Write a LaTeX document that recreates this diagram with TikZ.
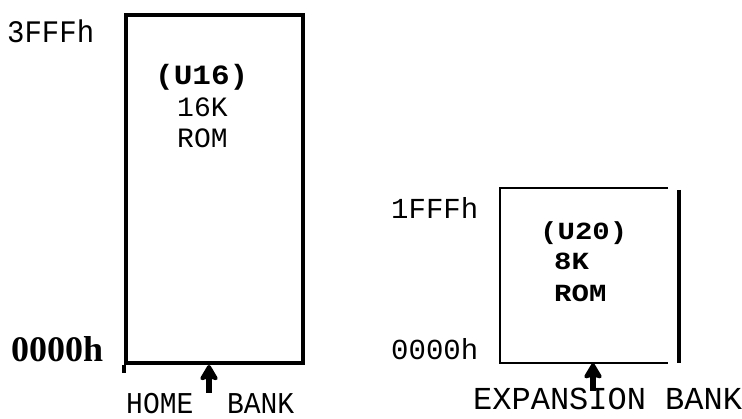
\documentclass[tikz,border=0pt]{standalone}
\usepackage{fontspec}
\usepackage{graphicx}
\setmainfont{Liberation Serif}
\setmonofont{Liberation Mono}
\usetikzlibrary{arrows.meta}
\newcommand{\vstretch}[2]{\scalebox{1}[#1]{#2}}
\tikzset{
  lbl/.style={font=\ttfamily\fontsize{29}{29}\selectfont, inner sep=0pt, anchor=base west},
  inlbl/.style={font=\ttfamily\fontsize{28}{28}\selectfont, inner sep=0pt, anchor=base west},
  inbold/.style={font=\ttfamily\bfseries\fontsize{29}{29}\selectfont, inner sep=0pt, anchor=base west},
  thickbox/.style={draw, line width=4pt, inner sep=0pt},
  thinline/.style={line width=2.5pt},
  bankarrow/.style={line width=5.5pt, -{Stealth[length=18pt,width=21pt,inset=3pt,round]}},
}
\begin{document}
\begin{tikzpicture}[x=1pt,y=-1pt]
\useasboundingbox (0,0) rectangle (742,419);
% left box
\node[thickbox, minimum width=177pt, minimum height=348pt] (home) at (214.5,189) {};
\draw[line width=4pt] (home.south west) -- ++(0,8);
\node[lbl] (h3fff) at (7,43) {\vstretch{1.08}{3FFFh}};
\node[font=\bfseries\fontsize{36}{36}\selectfont, inner sep=0pt, anchor=base west] (h0000) at (11,362) {0000h};
\node[inbold, font=\ttfamily\bfseries\fontsize{31}{31}\selectfont] (u16) at (155,85) {\vstretch{0.9}{(U16)}};
\node[inlbl] (k16) at (177,117) {16K};
\node[inlbl] (rom1) at (177,148) {ROM};
\coordinate (hometail) at (209,393);
\draw[bankarrow] (hometail) -- (home.south -| hometail);
\node[lbl, font=\ttfamily\fontsize{28}{28}\selectfont, text depth=0pt] (homebank) at (126,414) {\vstretch{1.08}{HOME\ \ BANK}};
% right box
\node[minimum width=168pt, minimum height=175pt, inner sep=0pt] (exp) at (584,275.5) {};
\draw[thinline] (exp.north east) -- (exp.north west) -- (exp.south west) -- (exp.south east);
\coordinate (vtop) at (679,190);
\coordinate (vbot) at (679,363);
\draw[line width=4pt] (vtop) -- (vbot);
\node[lbl] (h1fff) at (391,219) {1FFFh};
\node[lbl] (h0000b) at (391,360) {0000h};
\node[inbold] (u20) at (540,240) {\vstretch{0.85}{(U20)}};
\node[inbold] (k8) at (554,270) {\vstretch{0.85}{8K}};
\node[inbold] (rom2) at (554,302) {\vstretch{0.85}{ROM}};
\coordinate (exptail) at (593,391);
\draw[bankarrow] (exptail) -- (exp.south -| exptail);
\node[lbl, font=\ttfamily\fontsize{32}{32}\selectfont, text depth=0pt] (expbank) at (473,410) {EXPANSION\ BANK};
\end{tikzpicture}
\end{document}
